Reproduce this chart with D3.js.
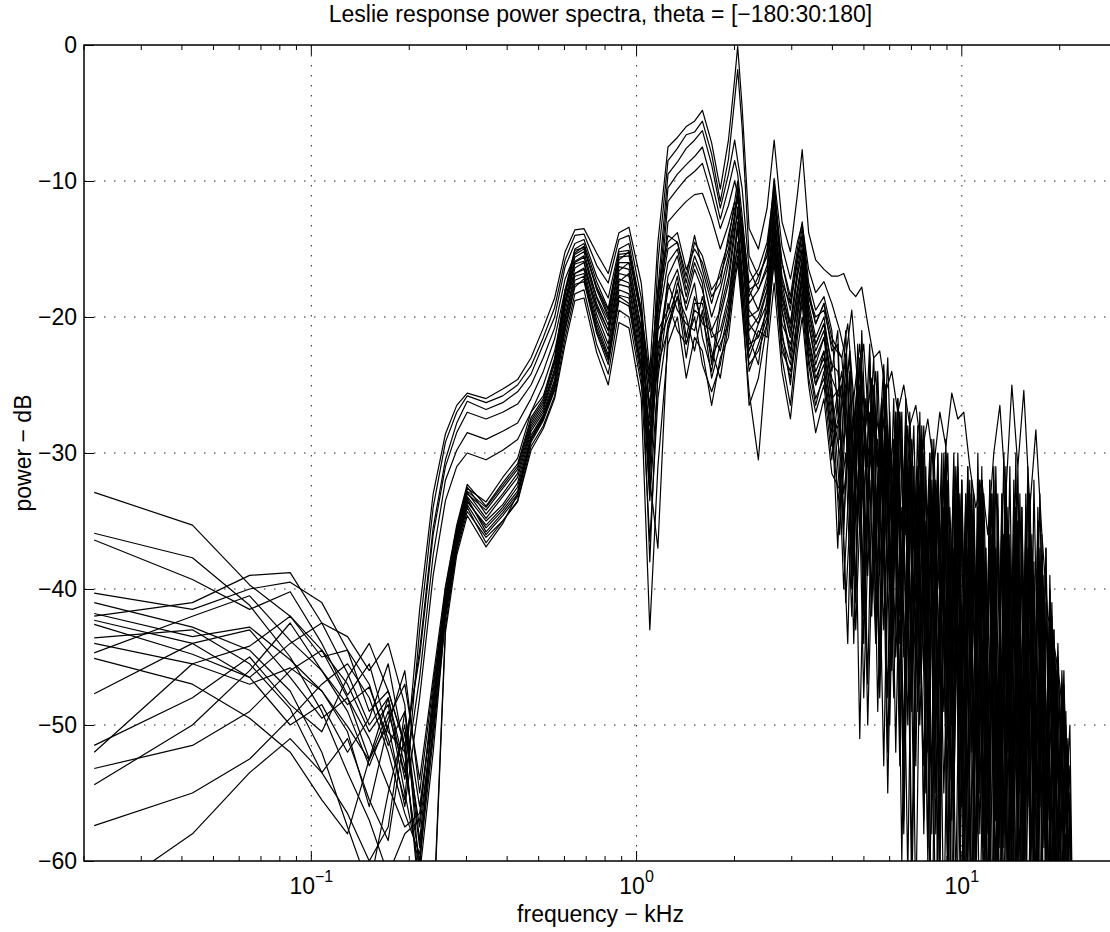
<!DOCTYPE html>
<html>
<head>
<meta charset="utf-8">
<script src="https://cdn.jsdelivr.net/npm/d3@7"></script>
<style>
  body { margin: 0; background: #fff; }
  svg { display: block; font-family: "Liberation Sans", Arial, sans-serif; }
</style>
</head>
<body>
<div id="chart"></div>
<script>
// frequency bins in kHz below 4 kHz (shared by every response)
const freqLowMid = [
  0.0215, 0.0431, 0.0646, 0.0861, 0.1077, 0.1292, 0.1507, 0.1723, 0.1938, 0.2153, 0.2369, 0.2584, 0.2799, 0.3015,
  0.3445, 0.3876, 0.4307, 0.4737, 0.5168, 0.5599, 0.6029, 0.6460, 0.6891, 0.7537, 0.8183, 0.8829, 0.9475, 1.0336,
  1.0982, 1.1628, 1.2490, 1.3351, 1.4212, 1.5074, 1.5935, 1.7012, 1.8088, 1.9165, 2.0026, 2.0457, 2.1103, 2.2180,
  2.3687, 2.5195, 2.6487, 2.7994, 2.9717, 3.1224, 3.2301, 3.3808, 3.5531, 3.7684, 3.9838
];
// three staggered sets of bins above 4 kHz
const freqHighA = [
  4.155, 4.334, 4.523, 4.719, 4.924, 5.137, 5.360, 5.593, 5.836, 6.089, 6.356, 6.630, 6.918, 7.219, 7.532, 7.860,
  8.200, 8.557, 8.928, 9.316, 9.721, 10.14, 10.58, 11.04, 11.52, 12.02, 12.54, 13.09, 13.66, 14.25, 14.87, 15.51,
  16.19, 16.89, 17.63, 18.39, 19.19, 20.02, 20.89, 21.80
];
const freqHighB = [
  4.214, 4.396, 4.588, 4.786, 4.994, 5.210, 5.437, 5.673, 5.919, 6.176, 6.447, 6.725, 7.017, 7.322, 7.640, 7.972,
  8.317, 8.679, 9.056, 9.449, 9.860, 10.28, 10.73, 11.20, 11.68, 12.19, 12.72, 13.28, 13.86, 14.45, 15.08, 15.73,
  16.42, 17.13, 17.88, 18.65, 19.46, 20.31, 21.19, 21.95
];
const freqHighC = [
  4.275, 4.459, 4.653, 4.855, 5.066, 5.285, 5.514, 5.754, 6.004, 6.264, 6.539, 6.821, 7.117, 7.427, 7.749, 8.086,
  8.436, 8.803, 9.185, 9.584, 10.00, 10.43, 10.88, 11.36, 11.85, 12.37, 12.90, 13.47, 14.05, 14.66, 15.30, 15.96,
  16.66, 17.38, 18.14, 18.92, 19.74, 20.60, 21.49, 22.05
];

// power in dB, one array per measured response
const spectrum01 = [
  -41.8, -43.5, -42.8, -45.2, -47.5, -50.1, -52.6, -49.0, -53.5, -41.5, -33.0, -28.6, -26.5, -25.6,
  -26.0, -25.3, -24.6, -23.0, -20.8, -18.6, -15.2, -13.6, -13.5, -15.3, -16.8, -13.8, -13.4, -17.5, -24.0, -14.5, -7.5, -6.8, -6.0, -5.6, -4.8, -7.2, -10.6, -7.0, -2.5, -0.1, -4.5, -13.5, -15.0, -12.0, -7.0, -13.0, -15.2, -11.0, -7.7, -13.8, -15.8, -16.5, -17.0,
  -17, -16.8, -18, -18.5, -17.8, -20.5, -23, -22.5, -25.5, -24, -27, -25, -28, -26.5, -30, -27.5, -31, -27, -29.5, -25.6, -27.5, -27, -31, -34, -32, -36, -30, -26.5, -33, -25, -31, -25.4, -34, -28.3, -36, -42, -44, -47, -52, -61
];
const spectrum02 = [
  -44.7, -42.0, -40.5, -43.8, -46.0, -48.5, -47.2, -51.0, -55.5, -43.0, -34.0, -29.2, -27.0, -25.8,
  -26.3, -25.8, -25.0, -23.6, -21.5, -19.3, -15.8, -14.0, -13.9, -16.2, -17.5, -14.3, -14.0, -18.6, -27.5, -16.0, -8.5, -7.6, -6.6, -6.4, -5.6, -8.0, -11.5, -8.4, -4.0, -1.8, -6.0, -15.5, -17.0, -15.5, -9.8, -14.8, -17.2, -14.5, -13.2, -16.5, -18.2, -17.4, -19.0,
  -21, -23, -19.5, -25, -22, -29, -24, -33, -23, -38, -27, -36, -29, -41, -28, -45, -32, -39, -30, -50, -33, -47, -35, -56, -33, -52, -37, -61, -35, -58, -39, -64, -37, -57, -41, -66, -45, -62, -52, -70
];
const spectrum03 = [
  -36.4, -39.3, -41.5, -40.2, -44.0, -47.8, -45.5, -50.5, -52.0, -44.5, -35.5, -30.5, -27.8, -26.2,
  -26.8, -26.3, -25.5, -24.2, -22.0, -20.0, -16.3, -14.6, -14.3, -17.0, -18.6, -15.0, -14.6, -19.5, -30.0, -18.0, -9.5, -8.6, -7.6, -7.0, -6.3, -8.8, -12.0, -9.5, -7.0, -8.5, -10.5, -16.5, -18.0, -16.2, -11.5, -16.0, -19.0, -15.5, -14.0, -18.5, -20.5, -19.0, -21.5,
  -23, -20.5, -26, -22, -28, -24.5, -31, -23.5, -35, -27, -42, -28, -37, -30, -47, -29, -40, -32, -54, -31, -44, -34, -59, -32, -48, -33, -62, -36, -53, -34, -65, -32, -50, -38, -63, -44, -58, -47, -64, -72
];
const spectrum04 = [
  -52.0, -45.5, -44.2, -42.0, -45.0, -44.5, -49.0, -47.5, -51.5, -45.0, -36.0, -31.0, -28.5, -27.0,
  -27.5, -27.0, -26.4, -25.0, -23.0, -20.8, -17.2, -15.4, -15.0, -17.8, -19.5, -15.8, -15.2, -20.0, -31.5, -19.0, -10.5, -9.5, -8.8, -8.2, -7.5, -10.0, -12.8, -10.5, -8.5, -9.5, -12.5, -18.0, -19.5, -17.0, -10.0, -17.5, -20.5, -17.0, -15.0, -19.5, -22.0, -20.5, -23.5,
  -24, -27, -22.5, -30, -25, -34, -26, -29, -25, -40, -28, -45, -30, -39, -29, -51, -33, -46, -30, -57, -34, -49, -32, -60, -35, -54, -31, -66, -34, -47, -36, -62, -33, -55, -39, -67, -43, -60, -50, -75
];
const spectrum05 = [
  -42.6, -44.8, -46.5, -44.0, -42.5, -46.2, -50.0, -48.0, -54.0, -46.5, -37.5, -32.0, -29.8, -28.5,
  -29.0, -28.4, -27.8, -26.0, -24.0, -21.6, -18.0, -16.0, -15.6, -18.5, -20.2, -16.6, -16.0, -21.0, -29.0, -20.0, -11.5, -10.6, -9.8, -9.3, -8.7, -11.0, -13.5, -11.8, -10.0, -11.0, -13.5, -19.5, -20.5, -18.0, -12.5, -18.5, -21.5, -18.0, -16.0, -20.5, -23.0, -21.5, -24.5,
  -26, -23, -29, -25, -33, -27, -38, -26, -32, -29, -44, -27, -49, -31, -41, -30, -55, -34, -48, -31, -60, -33, -52, -36, -64, -32, -57, -35, -61, -33, -55, -37, -68, -35, -58, -41, -64, -46, -62, -73
];
const spectrum06 = [
  -47.7, -44.0, -43.0, -46.5, -49.5, -48.0, -52.5, -50.0, -56.0, -48.0, -39.0, -33.5, -31.0, -30.0,
  -30.5, -29.8, -29.0, -27.0, -25.0, -22.5, -18.8, -16.8, -16.4, -19.2, -21.0, -17.4, -16.8, -22.0, -33.0, -21.0, -13.0, -12.2, -11.5, -11.0, -10.9, -12.8, -15.0, -13.2, -11.5, -12.0, -15.0, -20.5, -21.5, -19.5, -14.0, -19.5, -22.5, -19.0, -17.0, -21.5, -24.0, -22.5, -26.0,
  -25, -30, -27, -36, -26, -31, -29, -43, -28, -38, -27, -50, -32, -45, -31, -58, -30, -49, -35, -62, -32, -54, -34, -58, -37, -65, -33, -59, -36, -70, -34, -56, -38, -64, -37, -69, -45, -61, -53, -76
];
const spectrum07 = [
  -32.9, -35.3, -39.7, -42.0, -44.5, -47.0, -50.5, -48.5, -55.0, -60.5, -48.0, -40.5, -35.8, -32.8,
  -34.0, -32.4, -31.0, -27.6, -26.2, -23.4, -18.4, -15.3, -14.8, -18.0, -20.0, -15.6, -15.5, -20.0, -25.5, -19.5, -15.0, -14.5, -17.0, -14.0, -16.5, -19.0, -16.5, -14.5, -11.5, -10.0, -13.5, -18.5, -17.0, -15.5, -11.0, -17.0, -19.5, -15.5, -13.5, -18.0, -20.5, -19.0, -22.5,
  -22, -36, -24, -41, -21, -33, -26, -46, -25, -36, -28, -54, -27, -41, -30, -60, -29, -47, -31, -65, -30, -52, -33, -62, -31, -70, -34, -56, -32, -64, -35, -59, -33, -68, -38, -63, -44, -58, -52, -70
];
const spectrum08 = [
  -35.9, -37.7, -41.2, -45.0, -49.0, -53.5, -57.0, -61.0, -58.0, -57.0, -47.5, -40.0, -35.5, -32.5,
  -34.5, -33.0, -31.5, -28.0, -26.6, -24.0, -19.0, -15.9, -15.5, -19.0, -21.0, -16.3, -16.5, -21.5, -38.0, -24.0, -17.0, -15.5, -18.5, -16.0, -17.5, -23.5, -19.0, -16.0, -13.0, -11.0, -14.5, -20.0, -19.5, -17.5, -12.5, -18.0, -21.0, -17.0, -15.0, -19.5, -22.0, -20.5, -25.0,
  -33, -23, -40, -25, -31, -22, -43, -27, -40, -26, -51, -29, -45, -28, -58, -31, -43, -30, -63, -32, -49, -34, -67, -30, -55, -33, -61, -35, -72, -32, -50, -36, -66, -34, -58, -40, -65, -48, -60, -74
];
const spectrum09 = [
  -40.3, -41.5, -40.0, -39.5, -41.0, -44.5, -47.0, -51.5, -49.0, -58.5, -49.0, -41.0, -36.2, -33.2,
  -35.0, -33.8, -32.2, -28.4, -27.0, -24.6, -19.6, -16.4, -16.0, -19.8, -22.0, -17.2, -17.5, -22.5, -27.0, -21.0, -19.5, -17.0, -21.5, -18.5, -20.5, -21.0, -22.5, -19.5, -15.5, -13.5, -17.5, -24.0, -22.0, -20.0, -14.5, -21.0, -25.0, -20.0, -17.0, -22.5, -25.0, -22.5, -28.0,
  -24, -30, -39, -23, -36, -27, -42, -24, -50, -29, -38, -31, -56, -27, -48, -33, -61, -30, -45, -35, -66, -31, -54, -32, -60, -36, -53, -30, -69, -34, -57, -31, -63, -37, -55, -42, -61, -46, -67, -72
];
const spectrum10 = [
  -41.0, -42.8, -44.5, -47.5, -52.0, -57.5, -62.0, -55.0, -50.0, -59.0, -50.5, -41.5, -36.5, -33.5,
  -35.5, -34.2, -32.8, -28.9, -27.3, -25.0, -20.2, -17.0, -16.8, -20.5, -22.8, -18.0, -18.3, -23.5, -30.5, -23.0, -18.0, -16.5, -19.5, -17.5, -21.5, -24.0, -20.0, -17.5, -14.0, -12.0, -15.5, -21.5, -23.5, -18.5, -13.0, -19.5, -23.0, -18.5, -16.0, -21.5, -24.5, -23.0, -27.0,
  -37, -26, -23, -35, -28, -47, -25, -33, -30, -45, -26, -58, -32, -44, -29, -52, -34, -62, -31, -48, -33, -59, -35, -64, -32, -51, -37, -68, -31, -60, -35, -54, -38, -71, -36, -57, -43, -68, -49, -78
];
const spectrum11 = [
  -42.0, -41.0, -39.0, -38.8, -42.5, -43.5, -46.0, -44.0, -48.5, -61.0, -52.0, -42.0, -36.8, -33.8,
  -36.0, -34.6, -33.2, -29.2, -27.6, -25.4, -20.8, -17.6, -17.4, -21.2, -23.5, -18.8, -19.2, -24.5, -36.5, -26.0, -20.5, -18.5, -23.0, -19.0, -19.0, -22.5, -24.5, -20.5, -16.5, -14.5, -18.0, -23.0, -21.0, -21.5, -15.5, -22.5, -24.0, -21.0, -18.5, -23.5, -26.5, -24.0, -29.5,
  -27, -41, -32, -24, -44, -29, -35, -26, -52, -30, -42, -28, -60, -34, -46, -31, -67, -33, -51, -30, -58, -36, -63, -34, -57, -35, -74, -33, -52, -37, -65, -34, -60, -36, -75, -39, -62, -47, -59, -70
];
const spectrum12 = [
  -42.3, -44.0, -46.5, -50.0, -48.5, -52.0, -49.5, -45.5, -52.0, -62.0, -64.5, -42.8, -37.0, -34.0,
  -36.6, -35.0, -33.5, -29.5, -28.0, -25.8, -21.5, -18.3, -18.0, -22.0, -24.2, -19.5, -20.0, -25.0, -29.5, -22.5, -17.5, -19.5, -20.5, -21.0, -18.5, -21.5, -21.0, -18.5, -15.0, -13.0, -16.5, -22.5, -20.5, -19.0, -13.5, -20.5, -22.0, -19.5, -16.5, -20.5, -23.5, -21.5, -26.5,
  -31, -24, -44, -28, -39, -25, -49, -30, -44, -27, -60, -31, -37, -29, -55, -32, -48, -34, -64, -33, -56, -31, -70, -35, -49, -33, -62, -36, -58, -30, -67, -37, -53, -33, -61, -41, -70, -48, -66, -80
];
const spectrum13 = [
  -43.6, -43.0, -45.5, -48.8, -53.5, -51.0, -55.5, -58.5, -50.5, -57.5, -49.5, -41.2, -36.0, -33.0,
  -34.2, -32.6, -31.2, -27.8, -26.4, -23.8, -18.8, -15.6, -15.2, -18.6, -20.6, -16.0, -16.0, -20.8, -26.5, -20.5, -16.0, -15.0, -18.0, -15.5, -17.0, -20.0, -18.0, -15.5, -12.5, -10.5, -14.0, -19.0, -18.0, -16.5, -12.0, -18.5, -20.5, -16.5, -14.5, -19.0, -21.5, -20.0, -24.0,
  -21, -35, -27, -40, -24, -31, -23, -39, -28, -46, -26, -35, -29, -53, -28, -44, -32, -57, -29, -50, -31, -61, -34, -48, -32, -58, -36, -65, -33, -55, -31, -62, -35, -52, -40, -66, -45, -57, -54, -68
];
const spectrum14 = [
  -44.0, -45.5, -47.0, -45.8, -47.5, -50.5, -56.0, -50.0, -46.0, -55.0, -47.0, -40.5, -35.6, -32.6,
  -33.6, -31.8, -30.4, -27.0, -25.8, -23.0, -18.0, -15.0, -14.6, -17.4, -19.4, -15.2, -15.1, -19.5, -24.5, -18.5, -14.5, -13.8, -16.5, -15.0, -16.0, -18.5, -17.5, -14.0, -12.0, -11.5, -13.0, -17.5, -16.5, -14.5, -10.5, -16.0, -18.5, -15.0, -13.0, -17.5, -19.5, -18.5, -21.0,
  -29, -21, -33, -26, -41, -23, -37, -27, -30, -48, -27, -42, -31, -49, -30, -62, -33, -42, -32, -55, -34, -63, -32, -58, -35, -66, -31, -53, -34, -71, -33, -57, -36, -64, -39, -69, -46, -63, -51, -71
];
const spectrum15 = [
  -45.1, -47.0, -49.5, -52.0, -55.5, -58.0, -52.5, -48.0, -53.0, -60.0, -51.0, -42.2, -37.2, -34.3,
  -36.2, -35.0, -33.6, -29.8, -28.2, -26.0, -22.0, -18.8, -18.6, -22.6, -25.0, -20.4, -20.8, -26.0, -43.0, -31.0, -22.0, -20.0, -24.5, -21.5, -22.5, -26.5, -23.0, -21.5, -17.5, -16.0, -19.5, -25.5, -30.5, -22.5, -17.5, -24.0, -27.5, -22.5, -20.0, -25.0, -28.5, -26.0, -31.5,
  -33, -44, -26, -51, -30, -41, -32, -53, -29, -45, -34, -61, -31, -50, -35, -68, -33, -55, -37, -72, -34, -60, -36, -66, -38, -75, -35, -63, -37, -70, -34, -67, -39, -73, -41, -64, -47, -72, -55, -80
];
const spectrum16 = [
  -51.5, -48.0, -45.0, -48.5, -50.5, -46.5, -44.0, -47.5, -51.5, -63.0, -65.0, -43.2, -37.5, -34.6,
  -36.9, -35.2, -33.0, -29.0, -27.5, -25.2, -21.0, -17.8, -17.2, -21.0, -23.2, -18.5, -19.0, -24.0, -28.0, -22.0, -20.0, -18.0, -22.0, -20.0, -23.5, -25.5, -23.5, -20.0, -16.0, -15.0, -18.5, -26.5, -24.5, -20.5, -16.0, -23.0, -26.5, -21.5, -19.0, -24.5, -27.0, -25.0, -30.5,
  -26, -33, -29, -43, -31, -39, -27, -48, -32, -40, -30, -57, -35, -46, -33, -59, -31, -53, -36, -69, -32, -57, -35, -62, -33, -64, -36, -59, -34, -69, -38, -61, -35, -74, -42, -66, -47, -70, -52, -76
];
const spectrum17 = [
  -53.2, -51.5, -49.0, -46.0, -44.5, -48.0, -51.0, -54.5, -57.5, -56.5, -48.5, -40.8, -36.0, -32.9,
  -34.8, -33.2, -31.8, -28.2, -26.8, -24.2, -19.2, -16.1, -15.9, -19.4, -21.4, -16.8, -17.0, -22.0, -32.0, -37.0, -21.0, -17.5, -19.0, -16.5, -18.0, -21.0, -19.5, -17.0, -13.5, -12.5, -15.0, -21.0, -20.0, -18.0, -12.5, -19.0, -21.5, -18.0, -15.5, -20.0, -22.5, -21.0, -25.5,
  -36, -27, -39, -22, -42, -30, -34, -28, -48, -31, -53, -26, -47, -32, -57, -30, -51, -34, -60, -32, -54, -33, -68, -36, -59, -32, -65, -35, -61, -37, -73, -33, -59, -38, -65, -43, -61, -49, -68, -75
];
const spectrum18 = [
  -54.4, -50.0, -46.0, -42.5, -46.0, -49.0, -53.0, -49.5, -47.0, -54.0, -46.5, -39.8, -35.3, -32.3,
  -33.9, -32.2, -30.8, -27.4, -26.0, -23.2, -18.2, -15.1, -14.9, -17.8, -19.8, -15.4, -15.3, -19.8, -25.0, -18.0, -14.0, -14.5, -17.5, -14.5, -15.5, -18.0, -17.0, -15.0, -12.5, -11.0, -14.0, -18.0, -17.5, -15.0, -11.0, -17.5, -19.0, -16.0, -14.0, -18.5, -20.0, -19.5, -22.0,
  -23, -28, -36, -25, -30, -42, -24, -38, -27, -52, -29, -39, -28, -47, -32, -54, -30, -66, -34, -46, -32, -61, -33, -55, -37, -67, -34, -58, -31, -62, -36, -71, -32, -56, -37, -63, -44, -59, -50, -69
];
const spectrum19 = [
  -57.4, -55.0, -52.5, -49.5, -47.0, -45.5, -48.0, -52.0, -56.5, -59.5, -50.0, -41.8, -36.6, -33.6,
  -35.3, -34.0, -32.5, -28.7, -27.2, -24.8, -20.0, -16.8, -16.5, -20.2, -22.4, -17.6, -17.8, -23.0, -33.5, -24.5, -19.0, -21.0, -22.0, -19.5, -20.0, -23.0, -21.5, -19.0, -15.0, -13.5, -17.0, -22.0, -21.5, -19.5, -14.0, -21.5, -23.5, -20.0, -17.5, -22.0, -25.0, -23.5, -28.5,
  -28, -40, -31, -35, -27, -50, -33, -46, -28, -43, -32, -51, -30, -64, -34, -50, -32, -59, -30, -54, -35, -66, -33, -60, -36, -63, -32, -69, -35, -57, -39, -66, -34, -62, -38, -72, -46, -66, -58, -82
];
const spectrum20 = [
  -63.0, -58.0, -53.5, -51.0, -53.5, -56.5, -60.0, -57.5, -49.0, -56.0, -48.5, -41.0, -36.3, -33.3,
  -35.8, -34.4, -33.0, -29.0, -27.4, -25.2, -20.5, -17.3, -17.0, -20.8, -23.0, -18.4, -18.6, -23.8, -29.0, -23.5, -21.0, -18.5, -20.0, -22.5, -19.5, -24.5, -22.0, -20.5, -17.0, -15.5, -19.0, -23.5, -22.5, -20.5, -15.0, -22.0, -24.5, -21.0, -18.0, -23.0, -26.0, -24.5, -29.0,
  -34, -30, -42, -27, -48, -32, -44, -29, -55, -33, -47, -30, -63, -36, -53, -34, -58, -32, -61, -37, -50, -35, -71, -34, -62, -38, -57, -33, -66, -36, -60, -40, -70, -35, -59, -44, -64, -51, -73, -84
];

const spectra = [
  spectrum01, spectrum02, spectrum03, spectrum04, spectrum05, spectrum06, spectrum07,
  spectrum08, spectrum09, spectrum10, spectrum11, spectrum12, spectrum13, spectrum14,
  spectrum15, spectrum16, spectrum17, spectrum18, spectrum19, spectrum20
];
const highGrids = [freqHighA, freqHighB, freqHighC];

const yTicks = [0, -10, -20, -30, -40, -50, -60];
const xTicks = [0.1, 1, 10];
const xTickExponents = ["\u22121", "0", "1"];

const width = 1110;
const height = 932;
const plot = { left: 84, right: 1117, top: 45, bottom: 861 };

const x = d3.scaleLog().domain([0.02, 30]).range([plot.left, plot.right]);
const y = d3.scaleLinear().domain([-60, 0]).range([plot.bottom, plot.top]);

const svg = d3.select("#chart")
  .append("svg")
  .attr("width", width)
  .attr("height", height);

svg.append("defs")
  .append("clipPath")
  .attr("id", "plot-clip")
  .append("rect")
  .attr("x", plot.left)
  .attr("y", plot.top)
  .attr("width", plot.right - plot.left)
  .attr("height", plot.bottom - plot.top);

// dotted grid
const grid = svg.append("g").attr("stroke", "#222").attr("stroke-width", 1).attr("stroke-dasharray", "1.5,8.5");
grid.selectAll(".gx")
  .data(xTicks)
  .enter()
  .append("line")
  .attr("x1", d => x(d)).attr("x2", d => x(d))
  .attr("y1", plot.top).attr("y2", plot.bottom);
grid.selectAll(".gy")
  .data(yTicks.filter(d => d > -60 && d < 0))
  .enter()
  .append("line")
  .attr("x1", plot.left).attr("x2", plot.right)
  .attr("y1", d => y(d)).attr("y2", d => y(d));

// spectra
const line = d3.line()
  .defined(d => d[1] !== undefined)
  .x(d => x(d[0]))
  .y(d => y(d[1]));

svg.append("g")
  .attr("clip-path", "url(#plot-clip)")
  .selectAll("path")
  .data(spectra)
  .enter()
  .append("path")
  .attr("d", (s, k) => {
    const freqs = freqLowMid.concat(highGrids[k % 3]);
    return line(freqs.map((f, i) => [f, s[i]]));
  })
  .attr("fill", "none")
  .attr("stroke", "#000")
  .attr("stroke-width", 1.2)
  .attr("stroke-linejoin", "round");

// axes box
svg.append("rect")
  .attr("x", plot.left)
  .attr("y", plot.top)
  .attr("width", plot.right - plot.left)
  .attr("height", plot.bottom - plot.top)
  .attr("fill", "none")
  .attr("stroke", "#000")
  .attr("stroke-width", 1.5);

// y axis (ticks inward)
const yAxis = svg.append("g")
  .attr("transform", `translate(${plot.left},0)`)
  .call(d3.axisLeft(y).tickValues(yTicks).tickSizeInner(-10).tickSizeOuter(0).tickPadding(7));
yAxis.select(".domain").remove();
yAxis.selectAll("line").attr("stroke", "#000").attr("stroke-width", 1);
yAxis.selectAll("text").attr("font-size", 23).attr("fill", "#000")
  .attr("font-family", "Liberation Sans, Arial, sans-serif");

// x axis: major + minor ticks, bottom and top
const minorTicks = x.ticks().filter(d => !xTicks.includes(d));
const tickGroup = svg.append("g").attr("stroke", "#000").attr("stroke-width", 1);
[[plot.bottom, -1], [plot.top, 1]].forEach(([y0, dir]) => {
  tickGroup.selectAll(null)
    .data(xTicks)
    .enter()
    .append("line")
    .attr("x1", d => x(d)).attr("x2", d => x(d))
    .attr("y1", y0).attr("y2", y0 + dir * 10);
  tickGroup.selectAll(null)
    .data(minorTicks)
    .enter()
    .append("line")
    .attr("x1", d => x(d)).attr("x2", d => x(d))
    .attr("y1", y0).attr("y2", y0 + dir * 5);
});

const xLabels = svg.append("g")
  .attr("font-size", 23)
  .attr("fill", "#000")
  .attr("text-anchor", "middle");
xTicks.forEach((t, i) => {
  const label = xLabels.append("text")
    .attr("x", x(t))
    .attr("y", plot.bottom + 33);
  label.append("tspan").text("10");
  label.append("tspan")
    .attr("font-size", 16)
    .attr("dy", -12)
    .text(xTickExponents[i]);
});

// titles
svg.append("text")
  .attr("x", (plot.left + plot.right) / 2)
  .attr("y", 22)
  .attr("text-anchor", "middle")
  .attr("font-size", 23)
  .text("Leslie response power spectra, theta = [\u2212180:30:180]");

svg.append("text")
  .attr("x", (plot.left + plot.right) / 2)
  .attr("y", 922)
  .attr("text-anchor", "middle")
  .attr("font-size", 23)
  .text("frequency \u2212 kHz");

svg.append("text")
  .attr("transform", `translate(31,${(plot.top + plot.bottom) / 2}) rotate(-90)`)
  .attr("text-anchor", "middle")
  .attr("font-size", 23)
  .text("power \u2212 dB");
</script>
</body>
</html>
